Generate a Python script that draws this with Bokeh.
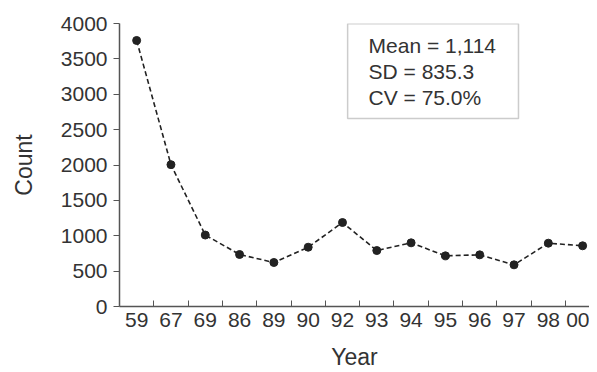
from bokeh.plotting import figure
from bokeh.models import FixedTicker, Range1d, BoxAnnotation, Label
from bokeh.embed import file_html
from bokeh.resources import INLINE

years = ["59", "67", "69", "86", "89", "90", "92", "93", "94", "95", "96", "97", "98", "00"]
counts = [3760, 2005, 1010, 735, 622, 838, 1187, 791, 900, 716, 730, 589, 895, 858]
y_ticks = [0, 500, 1000, 1500, 2000, 2500, 3000, 3500, 4000]
stats_lines = ["Mean = 1,114", "SD = 835.3", "CV = 75.0%"]

FONT = "Liberation Sans"
TXT = "#333333"
AX = "#555555"

xs = list(range(len(years)))

p = figure(width=589, height=372, output_backend="svg", toolbar_location=None,
           x_range=Range1d(-0.5, 13.2), y_range=Range1d(0, 4000),
           min_border_left=119, min_border_right=0, min_border_top=23, min_border_bottom=66)
p.outline_line_color = None
p.background_fill_color = "white"
p.border_fill_color = "white"
p.xgrid.visible = False
p.ygrid.visible = False

p.line(xs, counts, line_color="#222222", line_width=1.6, line_dash="5 3")
p.scatter(xs, counts, size=8, fill_color="#222222", line_color="#222222")

# x axis: labels at category centres, tick marks between categories pointing up
xa = p.xaxis[0]
xa.ticker = FixedTicker(ticks=xs, minor_ticks=[i + 0.5 for i in xs[:-1]])
xa.major_label_overrides = {i: y for i, y in enumerate(years)}
xa.major_tick_in = 0
xa.major_tick_out = 0
xa.minor_tick_in = 6
xa.minor_tick_out = 0
xa.minor_tick_line_color = AX
xa.axis_line_color = AX
xa.axis_line_width = 1.5
xa.major_label_text_font = FONT
xa.major_label_text_font_size = "21px"
xa.major_label_text_color = TXT
xa.major_label_standoff = 6
xa.axis_label = "Year"
xa.axis_label_text_font = FONT
xa.axis_label_text_font_size = "23px"
xa.axis_label_text_font_style = "normal"
xa.axis_label_text_color = TXT
xa.axis_label_standoff = 14

ya = p.yaxis[0]
ya.ticker = FixedTicker(ticks=y_ticks, minor_ticks=[])
ya.major_tick_in = 0
ya.major_tick_out = 6
ya.major_tick_line_color = AX
ya.axis_line_color = AX
ya.axis_line_width = 1.5
ya.major_label_text_font = FONT
ya.major_label_text_font_size = "21px"
ya.major_label_text_color = TXT
ya.major_label_standoff = 6
ya.axis_label = "Count"
ya.axis_label_text_font = FONT
ya.axis_label_text_font_size = "23px"
ya.axis_label_text_font_style = "normal"
ya.axis_label_text_color = TXT
ya.axis_label_standoff = 21

# statistics box
box = BoxAnnotation(left=6.15, right=11.13, bottom=2657, top=3995,
                    fill_color="white", fill_alpha=1.0,
                    line_color="#555555", line_width=1.5)
p.add_layout(box)
for i, t in enumerate(stats_lines):
    p.add_layout(Label(x=6.76, y=3689 - i * 367, text=t, text_font=FONT,
                       text_font_size="21px", text_color=TXT, text_baseline="middle"))

open("out.html", "w").write(file_html(p, INLINE))
